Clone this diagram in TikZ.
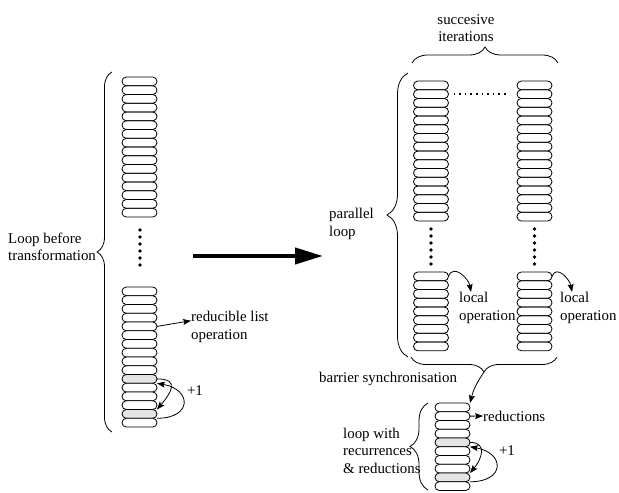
\documentclass[tikz,border=0pt]{standalone}
\usepackage{fontspec}
\setmainfont{Liberation Serif}
\usetikzlibrary{arrows.meta,calc,positioning,decorations.pathreplacing}

\begin{document}
\begin{tikzpicture}[x=1pt,y=1pt,>={Stealth[length=8pt,width=6pt,inset=1.5pt]},
		font=\fontsize{14.9}{17.5}\selectfont,
		cell/.style={draw,line width=0.8pt,rounded corners=4.3pt,minimum width=35pt,minimum height=8.75pt,inner sep=0pt,outer sep=0pt},
		lbl/.style={align=left,inner sep=0pt},
		curly/.style={draw,line width=0.8pt,decorate,decoration={brace,amplitude=#1}},
		thin arrow/.style={->,line width=0.8pt}]
		\useasboundingbox (0,0) rectangle (619,493);
		% loop before transformation
		\node[cell] (lt-1) at (139.5,411.6) {};
		\foreach \i [count=\j] in {2,...,16}
			\node[cell,below=0pt of lt-\j] (lt-\i) {};
		\node[cell] (lb-1) at (139.5,201.6) {};
		\foreach \i [count=\j, evaluate=\i as \g using {int(20*(\i==11||\i==15))}] in {2,...,16}
			\node[cell,fill=gray!\g,below=0pt of lb-\j] (lb-\i) {};
		\foreach \k in {0,...,5}
			\fill ($(lt-16.south)+(0.5,-13-7*\k)$) circle (1.8pt);
		\draw[curly=15pt] (112,61) -- (112,421) coordinate[midway,xshift=-15pt] (b_0);
		\node[lbl,anchor=west] (before) at (8,246) {Loop before\\transformation};
		\node[lbl,anchor=north west] (rlo) at (191,182) {reducible list\\operation};
		\node[inner sep=0pt] (plus_0) at (195,102) {+1};
		\path[thin arrow]
			(lb-5.east) edge ([yshift=6pt]rlo.west)
			(lb-11.east) edge[out=0,in=50,looseness=1.9] (lb-15.north east)
			(lb-15.south east) edge[out=0,in=-10,looseness=2.6] (lb-11.south east);
		% transformation
		\coordinate (a_0) at (193,237);
		\coordinate (a_1) at (323,237);
		\draw[line width=4pt,-{Triangle[length=28pt,width=16pt]}] (a_0) -- (a_1);
		% parallel loop
		\foreach \s/\x in {1/431,2/534.5}{
			\node[cell] (pt\s-1) at (\x,407.6) {};
			\foreach \i [count=\j] in {2,...,16}
				\node[cell,below=0pt of pt\s-\j] (pt\s-\i) {};
			\node[cell] (pb\s-1) at (\x,216.6) {};
			\foreach \i [count=\j] in {2,...,9}
				\node[cell,below=0pt of pb\s-\j] (pb\s-\i) {};
			\foreach \k in {0,...,5}
				\fill ($(pt\s-16.south)+(0,-8-7*\k)$) circle (1.8pt);
		}
		\draw[line width=1.6pt,dash pattern=on 1.6pt off 4pt] ([xshift=5pt]pt1-2.east) -- ([xshift=-9pt]pt2-2.west);
		\draw[curly=16pt] (412,430) -- (558,430);
		\node[align=center,inner sep=0pt] (iter) at (466,465) {succesive\\iterations};
		\draw[curly=21pt] (408,136) -- (408,420);
		\node[lbl,anchor=north west] (par) at (329,285) {parallel\\loop};
		\node[lbl,anchor=north west] (lo_1) at (459,201) {local\\operation};
		\node[lbl,anchor=north west] (lo_2) at (560,201) {local\\operation};
		\path[thin arrow]
			(pb1-1.east) edge[out=70,in=100,looseness=1.3] ([xshift=12pt]lo_1.north west)
			(pb2-1.east) edge[out=70,in=100,looseness=1.3] ([xshift=12pt]lo_2.north west);
		% barrier and reductions
		\draw[curly=15pt] (557,136) -- (411,136) coordinate[midway,yshift=-15pt] (b_1);
		\node[lbl,anchor=west] (barrier) at (319,114) {barrier synchronisation};
		\node[cell] (red-1) at (452.5,85.6) {};
		\foreach \i [count=\j, evaluate=\i as \g using {int(20*(\i==5||\i==9))}] in {2,...,10}
			\node[cell,fill=gray!\g,below=0pt of red-\j] (red-\i) {};
		\draw[curly=18pt] (428,3) -- (428,90);
		\node[lbl,anchor=west] (rec) at (343,42.5) {loop with\\recurrences\\\& reductions};
		\node[lbl,anchor=west] (rd) at (483,77) {reductions};
		\node[inner sep=0pt] (plus_1) at (507,42) {+1};
		\path[thin arrow]
			(b_1) edge[bend right=10] (red-1.north east)
			(red-2.east) edge (rd.west)
			(red-5.east) edge[out=0,in=50,looseness=1.5] (red-9.north east)
			(red-9.south east) edge[out=0,in=-10,looseness=2.6] (red-5.south east);
	\end{tikzpicture}
\end{document}
